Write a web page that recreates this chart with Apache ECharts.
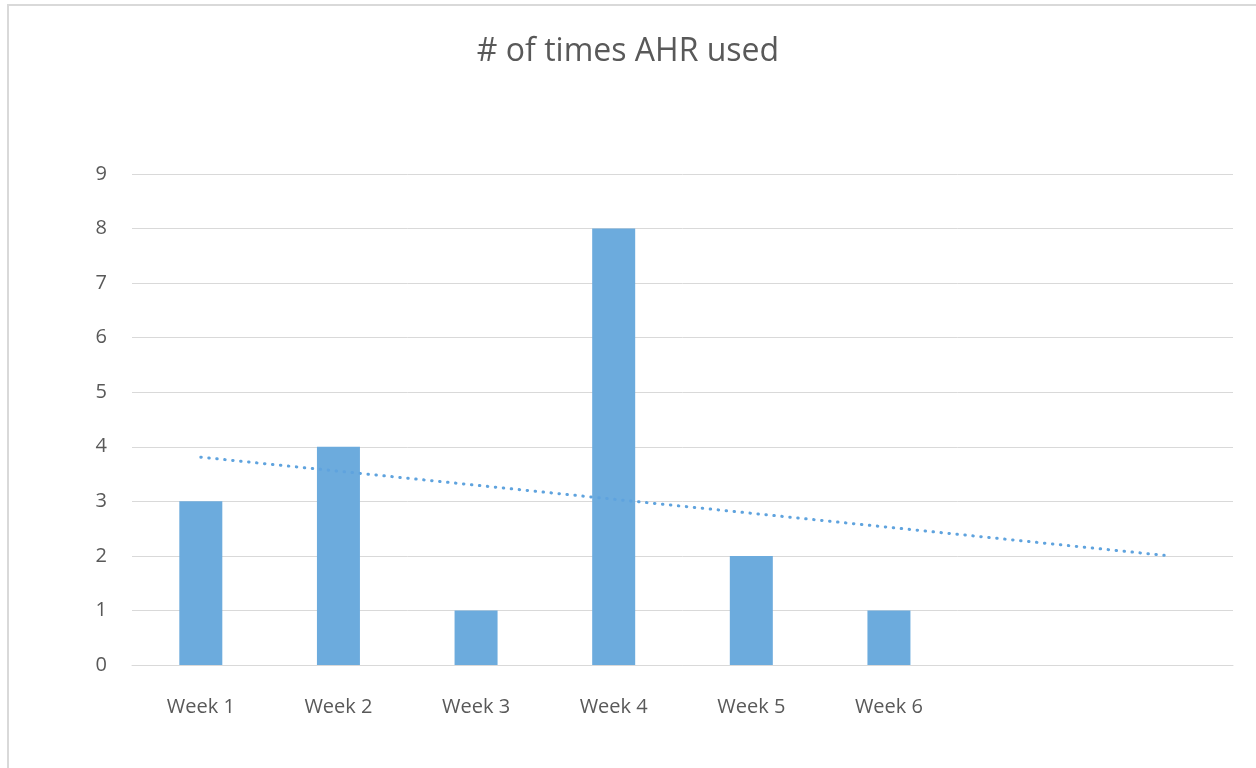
<!DOCTYPE html>
<html>
<head>
<meta charset="utf-8">
<script src="https://cdn.jsdelivr.net/npm/echarts@6/dist/echarts.min.js"></script>
<style>html,body{margin:0;padding:0;background:#fff;}#c{width:1256px;height:768px;}</style>
</head>
<body>
<div id="c"></div>
<script>
const titleText = '# of times AHR used';
const categories = ['Week 1', 'Week 2', 'Week 3', 'Week 4', 'Week 5', 'Week 6', '', ''];
const usedCounts = [3, 4, 1, 8, 2, 1, null, null];
const trendValues = [3.81, null, null, null, null, null, null, 2.01];
const yTicks = [0, 1, 2, 3, 4, 5, 6, 7, 8, 9];

const FONT = '"Open Sans", Lato, sans-serif';
const chart = echarts.init(document.getElementById('c'), null, {renderer: 'canvas'});
chart.setOption({
  backgroundColor: '#fff',
  animation: false,
  title: {
    text: titleText, left: 'center', top: 31,
    textStyle: {color: '#595959', fontSize: 32, fontWeight: 'normal', fontFamily: FONT}
  },
  graphic: [{
    type: 'rect', shape: {x: 8, y: 5, width: 1300, height: 800},
    style: {fill: 'none', stroke: '#d9d9d9', lineWidth: 2}, silent: true
  }],
  grid: {left: 132, right: 23, top: 174, bottom: 103, containLabel: false},
  xAxis: {
    type: 'category', data: categories,
    axisLine: {show: true, lineStyle: {color: '#d9d9d9', width: 1}},
    axisTick: {show: false},
    axisLabel: {color: '#595959', fontSize: 20, fontFamily: FONT, margin: 32, interval: 0}
  },
  yAxis: {
    type: 'value', min: yTicks[0], max: yTicks[yTicks.length - 1], interval: 1,
    axisLine: {show: false}, axisTick: {show: false},
    splitLine: {lineStyle: {color: '#d9d9d9', width: 1}},
    axisLabel: {color: '#595959', fontSize: 20, fontFamily: FONT, margin: 25, padding: [4, 0, 0, 0]}
  },
  series: [{
    type: 'bar', data: usedCounts, barWidth: 43,
    itemStyle: {color: '#6CABDD'}
  }, {
    type: 'line', data: trendValues, connectNulls: true, symbol: 'none', z: 3,
    lineStyle: {color: '#5FA3DE', width: 3, type: [0.5, 7.5], cap: 'round'}
  }]
});
</script>
</body>
</html>
